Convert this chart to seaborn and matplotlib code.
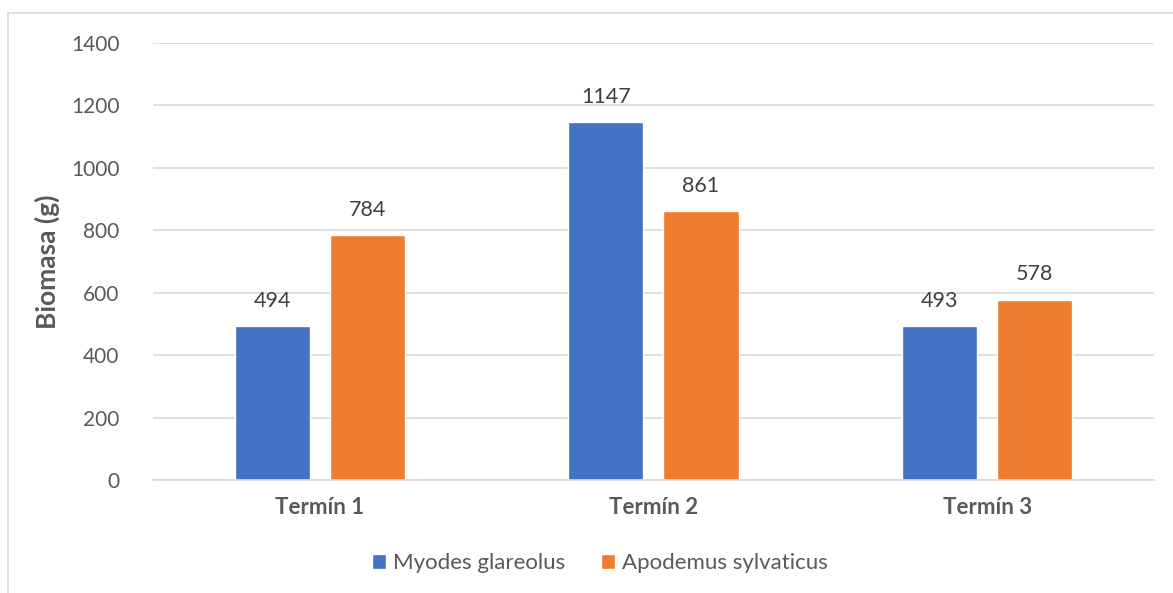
import matplotlib.pyplot as plt
import seaborn as sns
import pandas as pd
from matplotlib.lines import Line2D

terms = ['Termín 1', 'Termín 2', 'Termín 3']
myodes = [494, 1147, 493]
apodemus = [784, 861, 578]
species = ['Myodes glareolus', 'Apodemus sylvaticus']

df = pd.DataFrame({
    'term': terms * 2,
    'species': [species[0]] * 3 + [species[1]] * 3,
    'biomass': myodes + apodemus,
})

sns.set_style('white')
plt.rcParams['font.family'] = ['Lato', 'DejaVu Sans']
txt = '#595959'

fig = plt.figure(figsize=(11.73, 5.93), dpi=100)
ax = fig.add_axes([0.1304, 0.1906, 0.8534, 0.7369])

sns.barplot(data=df, x='term', y='biomass', hue='species',
            palette=['#4472C4', '#ED7D31'], width=0.57, gap=0.21,
            saturation=1, ax=ax, legend=True)

for c in ax.containers:
    ax.bar_label(c, fmt='%d', padding=11, fontsize=15.5, color='#404040')

ax.set_ylim(0, 1400)
ax.set_yticks(range(0, 1401, 200))
ax.yaxis.grid(True, color='#D9D9D9', linewidth=1.2)
ax.set_axisbelow(True)
for s in ['top', 'right', 'left']:
    ax.spines[s].set_visible(False)
ax.spines['bottom'].set_color('#D9D9D9')
ax.spines['bottom'].set_linewidth(1.2)
ax.tick_params(axis='y', length=0, pad=24, labelsize=15, labelcolor=txt)
ax.tick_params(axis='x', length=0, pad=12, labelsize=16, labelcolor=txt)
for t in ax.get_xticklabels():
    t.set_fontweight('bold')
ax.set_xlabel('')
ax.set_ylabel('Biomasa (g)', fontsize=19, fontweight='bold', color=txt)
ax.yaxis.set_label_coords(-0.093, 0.5)

h, l = ax.get_legend_handles_labels()
ax.legend(h, l, loc='center', bbox_to_anchor=(0.4466, -0.19), ncol=2,
          frameon=False, fontsize=16, labelcolor=txt, handlelength=0.64,
          handleheight=0.64, handletextpad=0.32, columnspacing=1.6)

# chart border (top and left visible)
fig.add_artist(Line2D([8 / 1173, 1], [1 - 13 / 593, 1 - 13 / 593],
                      transform=fig.transFigure, color='#D9D9D9', linewidth=1.2))
fig.add_artist(Line2D([8 / 1173, 8 / 1173], [0, 1 - 13 / 593],
                      transform=fig.transFigure, color='#D9D9D9', linewidth=1.2))

fig.savefig('out.png', dpi=100)
